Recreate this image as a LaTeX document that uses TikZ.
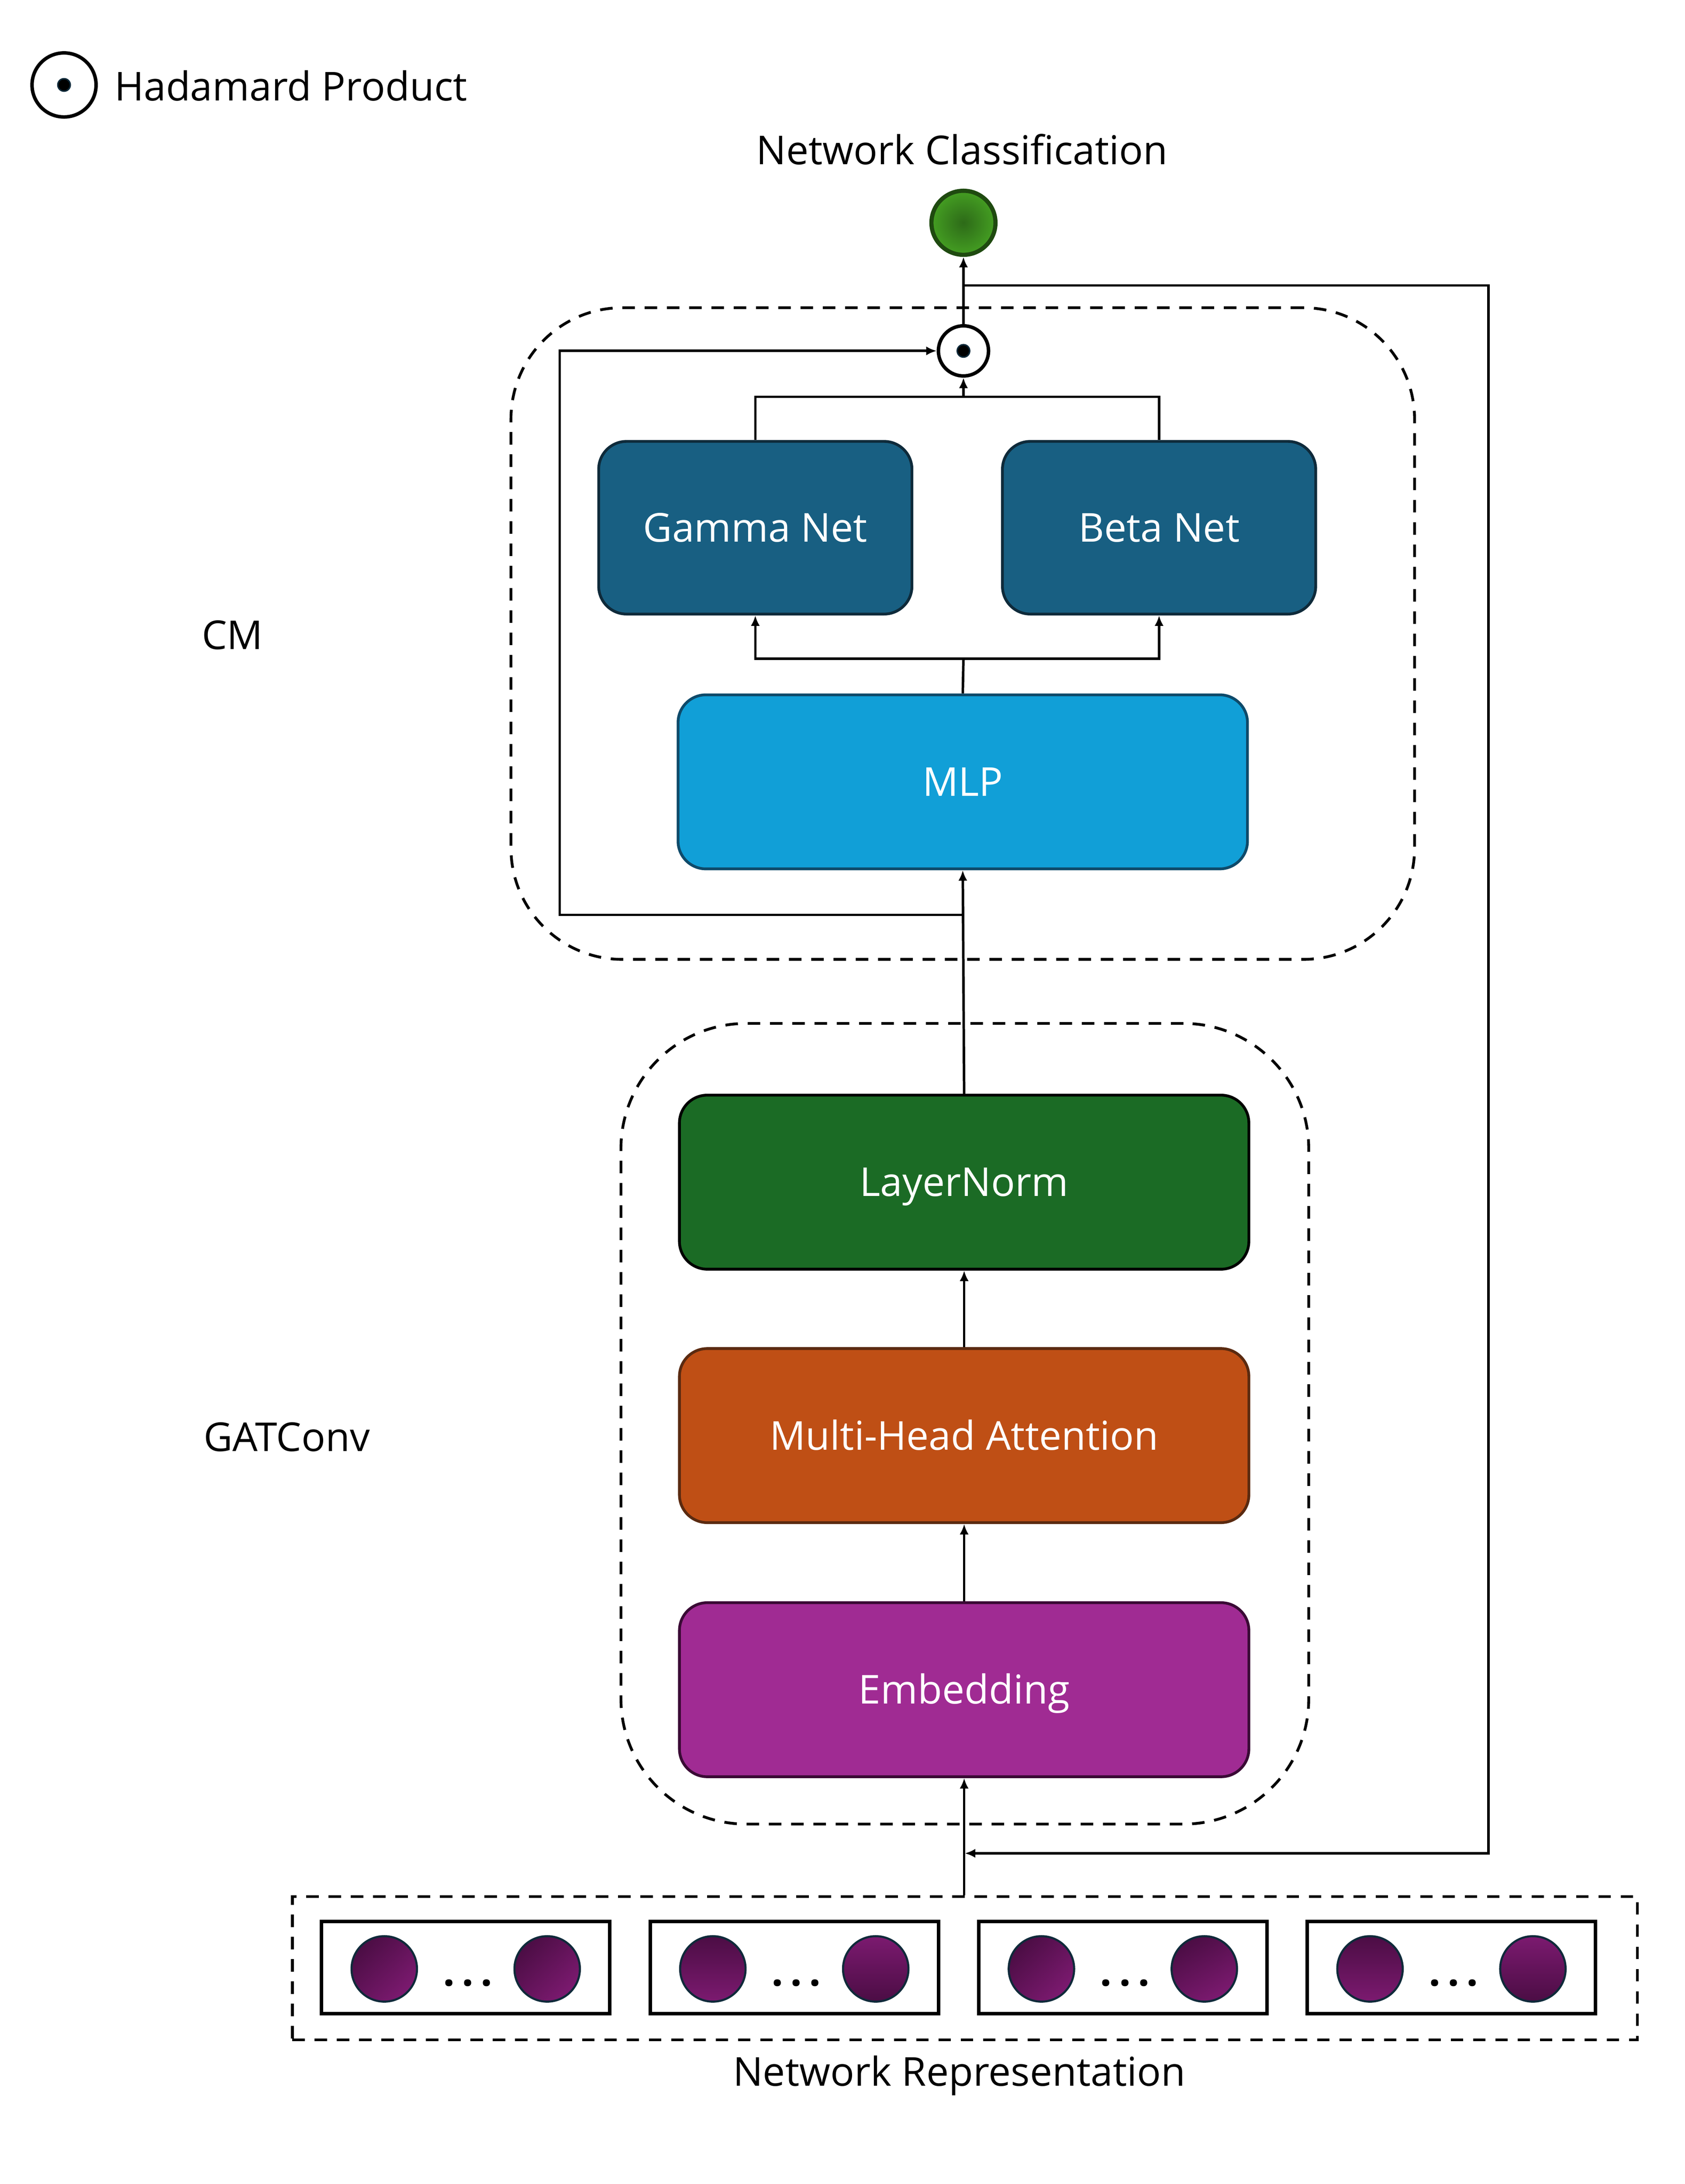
\documentclass[tikz,border=0pt]{standalone}
\usepackage{fontspec}
\setmainfont{Open Sans}
\usetikzlibrary{arrows.meta,calc}
\definecolor{gnblue}{HTML}{185F82}
\definecolor{gnborder}{HTML}{0E2A3A}
\definecolor{mlpblue}{HTML}{119FD7}
\definecolor{mlpborder}{HTML}{0E4A6A}
\definecolor{lngreen}{HTML}{1B6B25}
\definecolor{mhaorange}{HTML}{BF4F15}
\definecolor{mhaborder}{HTML}{5A2A10}
\definecolor{embpurple}{HTML}{A02B93}
\definecolor{embborder}{HTML}{3A0A35}
\definecolor{pdark}{HTML}{4B0D44}
\definecolor{plight}{HTML}{7C1A70}
\definecolor{navyline}{HTML}{0F2A3A}
\definecolor{gdark}{HTML}{2D6A18}
\definecolor{glight}{HTML}{449E22}
\definecolor{gborder}{HTML}{1F4A10}
\begin{document}
\begin{tikzpicture}[x=1pt,y=-1pt,
  lbl/.style={font=\fontsize{28.6}{34}\selectfont, inner sep=0, text height=20.4pt, text depth=0pt},
  conn/.style={line width=1.8pt, draw=black},
  arr/.style={conn, -{Latex[length=7.5pt,width=6.5pt]}},
  block/.style={rectangle, rounded corners=20pt, minimum width=409pt, minimum height=125pt,
    line width=2pt, text=white, font=\fontsize{28.6}{34}\selectfont, inner sep=0,
    text height=20.4pt, text depth=0pt},
  dashbox/.style={draw, dash pattern=on 9pt off 7pt, line width=2pt, inner sep=0},
  hada/.style={circle, draw, line width=2.5pt, fill=white, inner sep=0},
  hdot/.style={circle, fill=black, draw=navyline, line width=1pt, minimum size=9pt, inner sep=0},
  nodebox/.style={rectangle, draw, line width=2.5pt, minimum width=207pt, minimum height=66pt, inner sep=0},
  pcirc/.style={circle, draw=navyline, line width=1.5pt, minimum size=47pt, inner sep=0},
  dots/.style={font=\fontsize{30}{34}\selectfont\bfseries, inner sep=0}
]
\useasboundingbox (0,0) rectangle (1210,1568.5);
\fill[white] (0,0) rectangle (1210,1568.5);

% legend
\node[hada, minimum size=46pt] (leg) at (46,61) {};
\node[hdot] (legdot) at (leg.center) {};
\node[lbl, anchor=west] (legtxt) at (82,62) {Hadamard Product};

% containers
\node[dashbox, rounded corners=80pt, minimum width=649pt, minimum height=468pt] (cm) at (691.5,455) {};
\node[dashbox, rounded corners=90pt, minimum width=494pt, minimum height=575pt] (gat) at (693,1022.5) {};
\node[lbl] (cmlbl) at (167,456) {CM};
\node[lbl] (gatlbl) at (206,1032) {GATConv};

% output
\node[lbl] (title) at (691,108) {Network Classification};
\node[circle, draw=gborder, line width=3pt, inner color=gdark, outer color=glight, minimum size=46pt, inner sep=0] (out) at (692,160) {};

% hadamard
\node[hada, minimum size=36pt] (had) at (692,252) {};
\node[hdot] (haddot) at (had.center) {};

% blocks
\node[block, fill=gnblue, draw=gnborder, minimum width=225pt, minimum height=124pt] (gamma) at (542.5,379) {Gamma Net};
\node[block, fill=gnblue, draw=gnborder, minimum width=225pt, minimum height=124pt] (beta) at (832.5,379) {Beta Net};
\node[block, fill=mlpblue, draw=mlpborder] (mlp) at (691.5,561.5) {MLP};
\node[block, fill=lngreen, draw=black] (ln) at (692.5,849) {LayerNorm};
\node[block, fill=mhaorange, draw=mhaborder] (mha) at (692.5,1031) {Multi-Head Attention};
\node[block, fill=embpurple, draw=embborder] (emb) at (692.5,1213.5) {Embedding};

% network representation
\node[dashbox, minimum width=966pt, minimum height=103pt] (nr) at (693,1413.5) {};
\node[lbl] (nrlbl) at (689,1488) {Network Representation};
\foreach \i/\aa/\ta/\ba/\ab/\tb/\bb in {0/45/pdark/plight/45/pdark/plight,
                                     1/0/pdark/plight/0/plight/pdark,
                                     2/45/pdark/plight/30/pdark/plight,
                                     3/0/pdark/plight/0/plight/pdark}{
  \pgfmathsetmacro{\xo}{231+236*\i}
  \node[nodebox] (box\i) at (\xo+103.5,1413) {};
  \node[pcirc, top color=\ta, bottom color=\ba, shading angle=\aa] (ca\i) at (\xo+45,1414) {};
  \node[pcirc, top color=\tb, bottom color=\bb, shading angle=\ab] (cb\i) at (\xo+162,1414) {};
  \node[dots] (d\i) at (\xo+105,1424) {.\kern5pt.\kern5pt.};
}

% connectors
\coordinate (br) at (692,205);
\coordinate (rt) at (1069,205);
\coordinate (rb) at (1069,1331);
\coordinate (inj) at (693,1331);
\coordinate (skip) at (692,657);
\coordinate (skl) at (402,252);
\coordinate (mj) at (692,473);
\coordinate (gj) at (692,285);

\draw[arr] (had.north) -- (out.south);
\draw[arr] (br) -- (rt) -- (rb) -- (inj);
\draw[arr] (nr.north -| emb.south) -- (emb.south);
\draw[arr] (emb.north) -- (mha.south);
\draw[arr] (mha.north) -- (ln.south);
\draw[arr] (ln.north) -- (mlp.south);
\draw[arr] (skip) -| (skl) -- (had.west);
\draw[conn] (mlp.north) -- (mj);
\draw[arr] (mj) -| (gamma.south);
\draw[arr] (mj) -| (beta.south);
\draw[conn] (gamma.north) |- (gj);
\draw[conn] (beta.north) |- (gj);
\draw[arr] (gj) -- (had.south);
\end{tikzpicture}
\end{document}
